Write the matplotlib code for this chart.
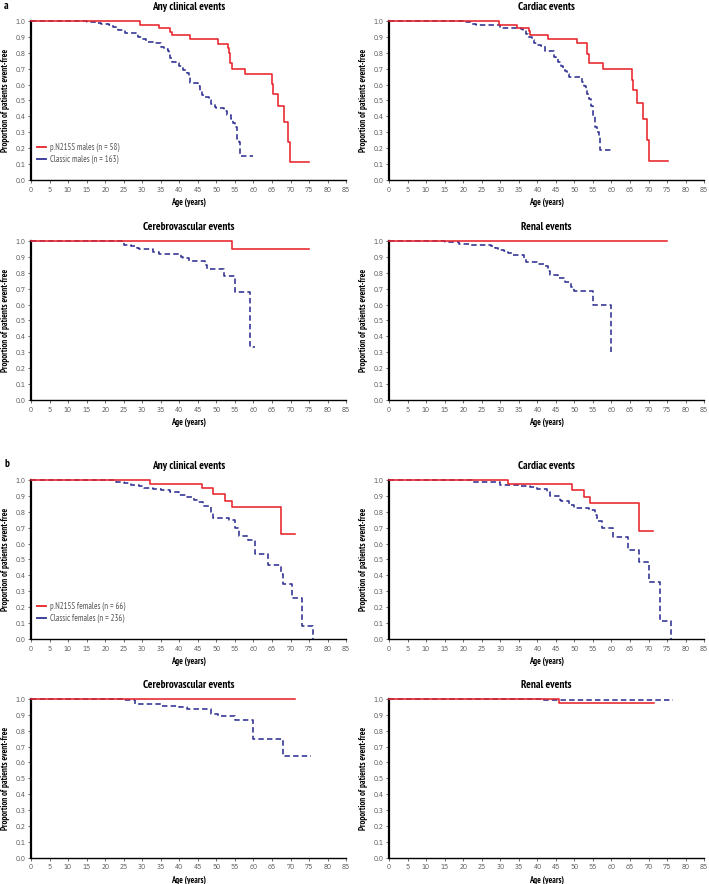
import matplotlib
matplotlib.use("Agg")
import matplotlib.pyplot as plt
from matplotlib.lines import Line2D

plt.rcParams['font.family'] = ['PT Sans Narrow', 'DejaVu Sans']
TICK_FONT = ['IBM Plex Sans Condensed', 'DejaVu Sans']

# ---- data: Kaplan-Meier step curves (age in years, proportion event-free) ----
# a: males
a_any_red_t = [0, 29.4, 34.5, 37.5, 38.0, 42.8, 50.5, 53.2, 53.4, 53.6, 54.1, 57.6, 65.1, 65.4, 66.7, 68.3, 69.4, 69.9, 75.0]
a_any_red_s = [1.0, 0.977, 0.954, 0.93, 0.912, 0.887, 0.855, 0.827, 0.795, 0.733, 0.70, 0.665, 0.601, 0.539, 0.463, 0.365, 0.241, 0.115, 0.115]
a_any_blue_t = [0, 15, 18, 19, 21, 22, 23.5, 25.3, 28.9, 30, 31, 33, 35, 36, 37, 37.3, 37.6, 38, 39, 40,
                41, 42, 42.5, 43, 45, 45.5, 46, 47, 48, 48.5, 49.5, 50, 52, 53, 54, 54.5, 55, 55.5, 56, 56.5, 59.8]
a_any_blue_s = [1.0, 0.99, 0.985, 0.979, 0.972, 0.962, 0.94, 0.925, 0.9, 0.883, 0.865, 0.858, 0.837, 0.825, 0.81, 0.79, 0.764, 0.743, 0.733, 0.715,
                0.69, 0.674, 0.645, 0.607, 0.59, 0.56, 0.534, 0.52, 0.503, 0.475, 0.46, 0.451, 0.434, 0.409, 0.386, 0.36, 0.336, 0.257, 0.24, 0.153, 0.153]

a_card_red_t = [0, 29.6, 34.6, 37.7, 38.0, 43.0, 50.7, 53.3, 53.5, 53.8, 57.7, 65.5, 65.8, 66.8, 68.5, 69.6, 70.2, 75.2]
a_card_red_s = [1.0, 0.975, 0.956, 0.935, 0.912, 0.885, 0.858, 0.82, 0.79, 0.735, 0.695, 0.628, 0.566, 0.482, 0.386, 0.253, 0.121, 0.121]
a_card_blue_t = [0, 20, 22, 23.5, 30, 35.5, 36, 37, 37.5, 38.5, 39, 40, 41, 42, 44.5, 45, 45.5, 46.5, 47, 47.5,
                 48, 48.5, 52, 52.5, 53, 53.5, 54, 54.5, 55, 55.5, 56, 56.5, 56.8, 60.4]
a_card_blue_s = [1.0, 0.99, 0.98, 0.971, 0.958, 0.95, 0.94, 0.92, 0.9, 0.88, 0.862, 0.85, 0.84, 0.81, 0.775, 0.76, 0.739, 0.718, 0.70, 0.685,
                 0.665, 0.645, 0.616, 0.59, 0.57, 0.539, 0.51, 0.466, 0.40, 0.336, 0.30, 0.27, 0.19, 0.19]

a_cere_red_t = [0, 54.2, 75.1]
a_cere_red_s = [1.0, 0.95, 0.95]
a_cere_blue_t = [0, 24.5, 25, 27, 28.5, 29, 33, 34.5, 40.5, 41, 42.5, 47, 47.5, 52, 55, 59, 60.3]
a_cere_blue_s = [1.0, 0.99, 0.975, 0.965, 0.955, 0.946, 0.931, 0.917, 0.9, 0.892, 0.875, 0.85, 0.823, 0.777, 0.681, 0.333, 0.333]

a_ren_red_t = [0, 75.0]
a_ren_red_s = [1.0, 1.0]
a_ren_blue_t = [0, 15, 18, 19, 22, 27.5, 28.5, 29.5, 31, 32, 33.5, 36.5, 37, 40, 42, 43, 43.5, 45.5, 47.5, 49, 50, 55, 60, 60.0]
a_ren_blue_s = [1.0, 0.995, 0.99, 0.983, 0.973, 0.965, 0.954, 0.944, 0.935, 0.923, 0.91, 0.885, 0.869, 0.854, 0.845, 0.81, 0.785, 0.765, 0.74, 0.713, 0.683, 0.598, 0.302, 0.302]

# b: females
b_any_red_t = [0, 32.0, 46.0, 49.1, 52.4, 54.3, 67.3, 71.2]
b_any_red_s = [1.0, 0.977, 0.95, 0.91, 0.869, 0.831, 0.66, 0.66]
b_any_blue_t = [0, 23, 25, 27, 29, 30.5, 33, 35, 37.5, 40, 42, 44, 45, 46.5, 48.5, 49, 53.5, 55, 56, 58.5,
                60.5, 64, 67.5, 68, 70.5, 73, 76, 76.0]
b_any_blue_s = [1.0, 0.99, 0.98, 0.97, 0.96, 0.952, 0.94, 0.935, 0.923, 0.906, 0.89, 0.875, 0.86, 0.835, 0.8, 0.763, 0.746, 0.70, 0.646, 0.625,
                0.533, 0.465, 0.41, 0.346, 0.26, 0.085, 0.0, 0.0]

b_card_red_t = [0, 32.0, 49.3, 52.7, 54.2, 67.4, 71.3]
b_card_red_s = [1.0, 0.975, 0.935, 0.892, 0.854, 0.681, 0.681]
b_card_blue_t = [0, 22.5, 30, 35, 38, 40, 42.5, 43.5, 46, 46.5, 48.5, 50, 54, 55.5, 56, 57.5, 60.5, 64.5, 67.5, 70, 73, 76, 76.0]
b_card_blue_s = [1.0, 0.985, 0.97, 0.96, 0.955, 0.942, 0.925, 0.9, 0.875, 0.865, 0.844, 0.825, 0.81, 0.78, 0.742, 0.696, 0.64, 0.558, 0.485, 0.36, 0.115, 0.0, 0.0]

b_cere_red_t = [0, 71.3]
b_cere_red_s = [1.0, 1.0]
b_cere_blue_t = [0, 25, 28, 35, 40, 42, 48.5, 50.5, 55, 60, 68, 75.6]
b_cere_blue_s = [1.0, 0.99, 0.967, 0.955, 0.946, 0.935, 0.904, 0.89, 0.868, 0.749, 0.64, 0.64]

b_ren_red_t = [0, 45.8, 71.5]
b_ren_red_s = [1.0, 0.971, 0.971]
b_ren_blue_t = [0, 41.4, 76.5]
b_ren_blue_s = [1.0, 0.992, 0.992]

titles = ["Any clinical events", "Cardiac events", "Cerebrovascular events", "Renal events"]
legend_a = ["p.N215S males (n = 58)", "Classic males (n = 163)"]
legend_b = ["p.N215S females (n = 66)", "Classic females (n = 236)"]
x_ticks = list(range(0, 90, 5))
y_ticks = [i / 10 for i in range(11)]

RED = "#e8232a"
BLUE = "#2e3192"
GREY = "#555555"


def draw(ax, red_t, red_s, blue_t, blue_s, title):
    ax.step(blue_t, blue_s, where="post", color=BLUE, lw=1.15,
            dashes=(3.4, 2.0), clip_on=False, zorder=3)
    ax.step(red_t, red_s, where="post", color=RED, lw=1.15,
            clip_on=False, zorder=4)
    ax.set_xlim(0, 85)
    ax.set_ylim(0, 1.0)
    ax.set_xticks(x_ticks)
    ax.set_yticks(y_ticks)
    ax.set_yticklabels(["%.1f" % v for v in y_ticks])
    ax.tick_params(labelsize=5.4, colors=GREY, length=2, width=0.6, pad=2)
    for lab in ax.get_xticklabels() + ax.get_yticklabels():
        lab.set_fontfamily(TICK_FONT)
    for s in ("top", "right"):
        ax.spines[s].set_visible(False)
    ax.spines["left"].set_linewidth(1.6)
    ax.spines["bottom"].set_linewidth(1.0)
    ax.set_title(title, fontsize=8.0, fontweight="bold", pad=8)
    ax.set_xlabel("Age (years)", fontsize=6.2, fontweight="bold", labelpad=3)
    ax.set_ylabel("Proportion of patients event-free", fontsize=6.3,
                  fontweight="bold", labelpad=4)


def main():
    fig = plt.figure(figsize=(7.09, 8.84), dpi=100)

    lefts = [0.0437, 0.5487]
    width = 0.4445
    bottoms = [0.7964, 0.5475, 0.2771, 0.0295]
    height = 0.1800

    panels = [
        (a_any_red_t, a_any_red_s, a_any_blue_t, a_any_blue_s),
        (a_card_red_t, a_card_red_s, a_card_blue_t, a_card_blue_s),
        (a_cere_red_t, a_cere_red_s, a_cere_blue_t, a_cere_blue_s),
        (a_ren_red_t, a_ren_red_s, a_ren_blue_t, a_ren_blue_s),
        (b_any_red_t, b_any_red_s, b_any_blue_t, b_any_blue_s),
        (b_card_red_t, b_card_red_s, b_card_blue_t, b_card_blue_s),
        (b_cere_red_t, b_cere_red_s, b_cere_blue_t, b_cere_blue_s),
        (b_ren_red_t, b_ren_red_s, b_ren_blue_t, b_ren_blue_s),
    ]

    axes = []
    for i, p in enumerate(panels):
        row, col = divmod(i, 2)
        ax = fig.add_axes([lefts[col], bottoms[row], width, height])
        draw(ax, *p, titles[i % 4])
        axes.append(ax)

    # legends in the "Any clinical events" panels
    for ax, labels in ((axes[0], legend_a), (axes[4], legend_b)):
        handles = [Line2D([], [], color=RED, lw=1.3),
                   Line2D([], [], color=BLUE, lw=1.3)]
        leg = ax.legend(handles, labels, loc="lower left",
                        bbox_to_anchor=(0.0, 0.06), frameon=False,
                        fontsize=6.2, handlelength=1.0, handletextpad=0.5,
                        labelspacing=0.4, borderaxespad=0.3)
        for t in leg.get_texts():
            t.set_color(GREY)

    fig.text(0.006, 1 - 6 / 884, "a", fontsize=8, fontweight="bold", va="center")
    fig.text(0.006, 1 - 464 / 884, "b", fontsize=8, fontweight="bold", va="center")

    fig.savefig("out.png", dpi=100)


if __name__ == "__main__":
    main()
